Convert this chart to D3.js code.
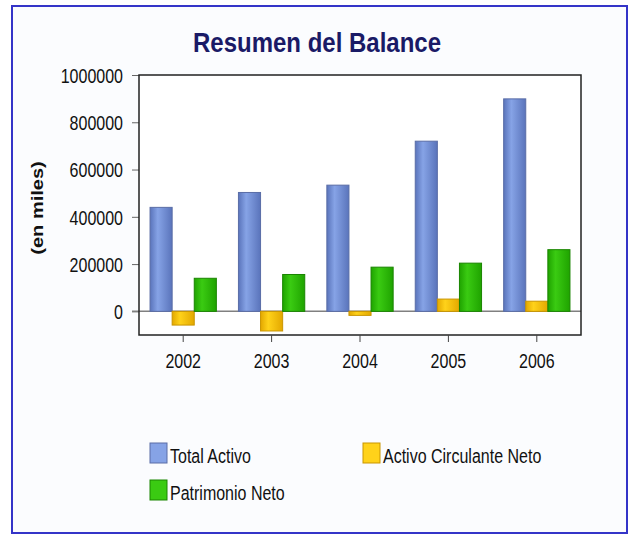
<!DOCTYPE html>
<meta charset="utf-8">
<script src="https://d3js.org/d3.v7.min.js"></script>
<style>
  body { margin: 0; background: #fff; }
  text { font-family: "Liberation Sans", Arial, sans-serif; }
</style>
<div id="my_dataviz"></div>
<script>
// data
var years = ["2002", "2003", "2004", "2005", "2006"];
var seriesNames = ["Total Activo", "Activo Circulante Neto", "Patrimonio Neto"];
var totalActivo = [440000, 503000, 534000, 720000, 899000];
var activoCirculante = [-58000, -83000, -17000, 52000, 43000];
var patrimonioNeto = [140000, 156000, 187000, 204000, 261000];
var yTicks = [0, 200000, 400000, 600000, 800000, 1000000];

var width = 629, height = 536;
var plot = { left: 139, right: 581, top: 75, bottom: 335 };
var stretch = 1.25; // the original text is drawn a bit tall

var colors = [
    { edge: "#5a74bb", mid: "#86a3e6", line: "#5a6da6" },
    { edge: "#e3a800", mid: "#ffd21a", line: "#c99500" },
    { edge: "#1fa300", mid: "#3acb12", line: "#1a8500" }
];

var series = [totalActivo, activoCirculante, patrimonioNeto];

var svg = d3.select("#my_dataviz")
    .append("svg")
    .attr("width", width)
    .attr("height", height);

// gradients, lighter in the middle of each bar
var defs = svg.append("defs");
colors.forEach(function (c, i) {
    var grad = defs.append("linearGradient")
        .attr("id", "grad" + i)
        .attr("x1", "0%").attr("x2", "100%")
        .attr("y1", "0%").attr("y2", "0%");
    grad.append("stop").attr("offset", "0%").attr("stop-color", c.edge);
    grad.append("stop").attr("offset", "35%").attr("stop-color", c.mid);
    grad.append("stop").attr("offset", "100%").attr("stop-color", c.edge);
});

// outer panel
svg.append("rect")
    .attr("x", 12).attr("y", 6)
    .attr("width", 615).attr("height", 527)
    .attr("fill", "#fbfcfe")
    .attr("stroke", "#3434c8")
    .attr("stroke-width", 2);

// scales
var x = d3.scaleBand()
    .domain(years)
    .range([plot.left, plot.right])
    .padding(0);

var x1 = d3.scaleBand()
    .domain(seriesNames)
    .range([0, x.bandwidth()])
    .paddingInner(0)
    .paddingOuter(0.5);

var y = d3.scaleLinear()
    .domain([-100000, 1000000])
    .range([plot.bottom, plot.top]);

// plot background + frame
svg.append("rect")
    .attr("x", plot.left).attr("y", plot.top)
    .attr("width", plot.right - plot.left)
    .attr("height", plot.bottom - plot.top)
    .attr("fill", "#ffffff");

// y axis
var yAxis = d3.axisLeft(y)
    .tickValues(yTicks)
    .tickFormat(d3.format("d"))
    .tickSize(7)
    .tickPadding(9);

var gy = svg.append("g")
    .attr("transform", `translate(${plot.left},0)`)
    .call(yAxis);
gy.select(".domain").remove();
gy.selectAll(".tick line").attr("stroke", "#666");
gy.selectAll(".tick text")
    .attr("x", null).attr("dy", null)
    .attr("transform", `translate(-16,0) scale(1,${stretch})`)
    .attr("dy", "0.36em")
    .attr("font-size", 16)
    .attr("fill", "#111");

// zero line across the plot
svg.append("line")
    .attr("x1", plot.left - 7).attr("x2", plot.right)
    .attr("y1", y(0)).attr("y2", y(0))
    .attr("stroke", "#808080")
    .attr("stroke-width", 1.5);

// bars
var groups = svg.selectAll("g.year")
    .data(years)
    .enter()
    .append("g")
    .attr("class", "year")
    .attr("transform", function (d) { return `translate(${x(d)},0)`; });

groups.selectAll("rect")
    .data(function (d, i) {
        return seriesNames.map(function (name, k) {
            return { name: name, k: k, value: series[k][i] };
        });
    })
    .enter()
    .append("rect")
    .attr("x", function (d) { return x1(d.name); })
    .attr("y", function (d) { return y(Math.max(0, d.value)); })
    .attr("width", x1.bandwidth())
    .attr("height", function (d) { return Math.abs(y(d.value) - y(0)); })
    .attr("fill", function (d) { return `url(#grad${d.k})`; })
    .attr("stroke", function (d) { return colors[d.k].line; })
    .attr("stroke-width", 1);

// frame on top
svg.append("rect")
    .attr("x", plot.left).attr("y", plot.top)
    .attr("width", plot.right - plot.left)
    .attr("height", plot.bottom - plot.top)
    .attr("fill", "none")
    .attr("stroke", "#222")
    .attr("stroke-width", 1.5);

// x axis
var xAxis = d3.axisBottom(x)
    .tickSize(7)
    .tickSizeOuter(0);

var gx = svg.append("g")
    .attr("transform", `translate(0,${plot.bottom})`)
    .call(xAxis);
gx.select(".domain").remove();
gx.selectAll(".tick line").attr("stroke", "#444");
gx.selectAll(".tick text")
    .attr("y", null).attr("dy", null)
    .attr("transform", `translate(0,33) scale(1,${stretch})`)
    .attr("font-size", 16)
    .attr("fill", "#111");

// title
svg.append("text")
    .attr("transform", `translate(317,52) scale(1,1.15)`)
    .attr("text-anchor", "middle")
    .attr("font-size", 24)
    .attr("font-weight", "bold")
    .attr("fill", "#1a1a66")
    .text("Resumen del Balance");

// y axis label
svg.append("text")
    .attr("transform", `translate(43,208) rotate(-90) scale(${stretch},1)`)
    .attr("text-anchor", "middle")
    .attr("font-size", 16)
    .attr("font-weight", "bold")
    .attr("fill", "#111")
    .text("(en miles)");

// legend
var legendPos = [[150, 443], [363, 443], [150, 480]];
var legend = svg.selectAll("g.legend")
    .data(seriesNames)
    .enter()
    .append("g")
    .attr("class", "legend")
    .attr("transform", function (d, i) { return `translate(${legendPos[i][0]},${legendPos[i][1]})`; });

legend.append("rect")
    .attr("width", 17)
    .attr("height", 20)
    .attr("fill", function (d, i) { return colors[i].mid; })
    .attr("stroke", function (d, i) { return colors[i].line; })
    .attr("stroke-width", 1);

legend.append("text")
    .attr("transform", `translate(20,20) scale(1,${stretch})`)
    .attr("font-size", 16)
    .attr("fill", "#111")
    .text(function (d) { return d; });
</script>
